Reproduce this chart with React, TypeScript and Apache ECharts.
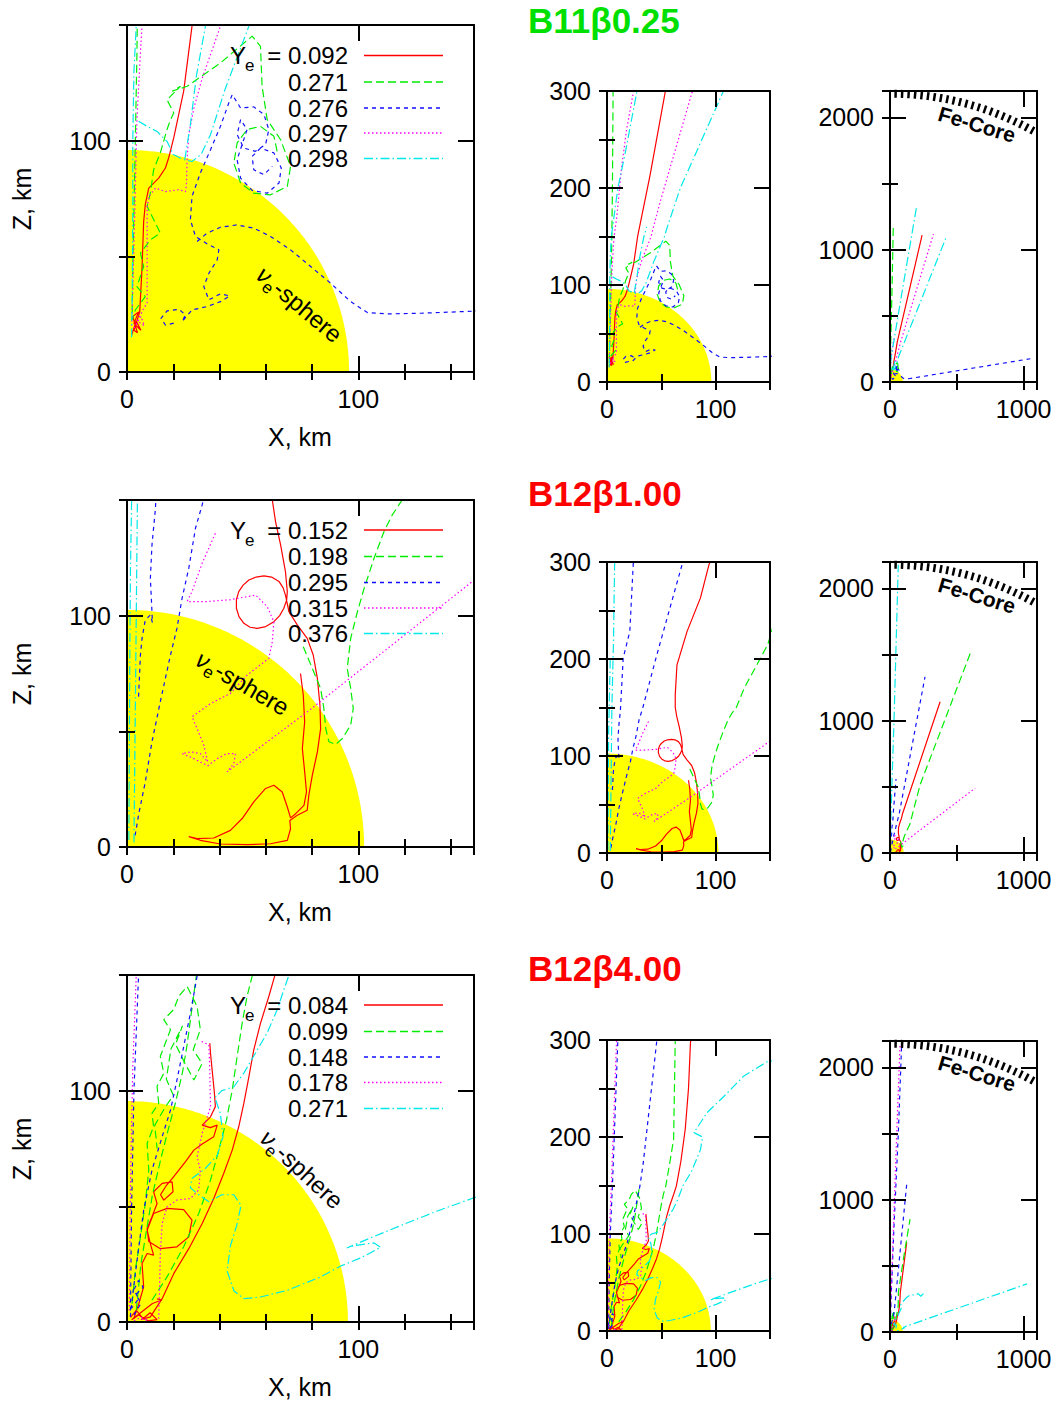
import React, { useEffect, useRef } from 'react';
import * as echarts from 'echarts';

// ---------------- data (km) ----------------
// Row 1: B11β0.25
const R1_RED = [
  [[2,16],[4,22],[6,18],[3,21],[5,26],[2.5,24],[4.5,17],[3,18],[5.5,26],[6.5,45],[7.2,65],[7.9,72.3],[9.4,79.5],[13.7,83.8],[16.6,88.2],[18,92.5],[20.2,101.2],[24.5,121.4],[28.1,149.5],[39.6,213],[53.6,299],[240,1110]],
];
const R1_GREEN = [
  [[64.9,95.4],[63.5,101.9],[57.7,106.2],[51.9,104.8],[47.6,99],[46.2,90.3],[49.1,81.7],[54.8,77.3],[62,76.6],[69.3,80.2],[70.7,88.9],[66.4,100.4],[60.6,109.1],[58.4,123.5],[57.7,140.8],[54.1,145.2],[40.4,133.6],[26,123.5],[19.5,121.4],[23.1,123.5],[17.3,117.7],[20.2,112],[18.8,109],[17.3,104.8],[14.4,94.7],[11.5,87.4],[10.1,77.3],[8.7,71.6],[13,62.9],[14.4,60],[10.1,57.1],[5.8,51.4],[7.2,45.6],[4.3,36.9],[7.9,32.6],[3.6,26.8],[2.2,22.5],[2.6,51.4],[3.5,94.7],[4.3,138],[5,200],[5.6,300],[15,700],[25,1190]],
];
const R1_BLUE = [
  [[20.2,21.1],[16.6,20.3],[14.7,23.2],[17.3,26.4],[22.4,27.1],[25.3,24.7],[23.8,21.8],[28.1,26.8],[34.6,28.3],[40.4,30.4],[44.4,32.9],[40.4,33.8],[35.4,31.2],[33.2,36.9],[35.4,42.7],[39,48.5],[39.7,52.8],[34.6,55.4],[29.6,58.6],[27.4,65.8],[28.1,75.9],[31.7,86],[36.1,96.1],[40.4,106.2],[44,116.3],[45.5,119.9],[49.1,114.1],[54.8,114.6],[59.2,111.3],[61.3,104.8],[59.9,98.3],[55.5,95.4],[50.5,96.8],[47.6,102.6],[49.1,109.1],[51.9,104.8],[47.6,91.8],[49.1,83.8],[54.1,78.5],[60.6,77.3],[65.7,81.7],[66.7,88.2],[63.5,94.7],[57.7,96.8],[54.1,93.2],[54.8,87.4],[59.2,85.3],[62.8,88.9]],
  [[30.3,56.4],[34.6,60],[40.4,62.6],[47.6,63.6],[54.8,62.2],[62,58.6],[70.7,52.8],[79.4,45.6],[88,38.4],[96.7,30.4],[103.9,25.7],[112.6,25.1],[127,25.4],[150,26.3],[1050,176]],
];
const R1_MAGENTA = [
  [[2,20],[2.5,35],[2.9,51],[3.6,80],[4.3,109],[5.8,138],[6.5,150],[9,170],[13.3,220],[18,260],[24.1,297.6],[30,330]],
  [[3,19],[6,24],[7.5,20],[4.5,22],[7,27],[8.7,30],[8.7,51],[8.7,71.6],[9.5,76],[12.3,79.5],[16.6,78],[22.4,78.8],[25.3,78],[25.7,81],[26,92.5],[26.7,102.6],[28.9,114],[32.5,127],[36.1,137.2],[40.4,149.5],[49,186],[78,297.6],[325,1118]],
];
const R1_CYAN = [
  [[2,15],[2.3,40],[2.5,70],[2.5,100],[3,130],[4,150],[10,200],[16.4,234],[27.2,297.6],[80,620],[200,1332]],
  [[5,108.4],[9,106],[13,104],[17.3,99.7],[20,94],[24,92],[28.1,91],[32,94],[36.1,102.6],[42.6,122.8],[52.7,149.5],[55,158],[67.5,200],[101.5,285.6],[425,1106]],
  [[25,92],[27.4,107],[30,128],[33.9,149.5],[36.5,160]],
];

// Row 2: B12β1.00
const R2_RED = [
  [[75,75],[76.2,65.7],[76.8,54.1],[75.8,42.6],[76.8,32.5],[77.6,23.8],[76.5,18],[72.9,14.4],[70.7,12.6],[69.3,17.3],[67.1,23.8],[63.5,26.7],[59.9,25.3],[54.8,19.5],[49.8,12.3],[44.7,7.2],[37.5,3.9],[30.3,3.6],[26.7,4.5],[31.7,2.9],[40.4,1.3],[51.9,1],[62,1.4],[69.3,2.9],[70.7,7.9],[70.4,11.5],[73.6,13.7],[77.9,15.9],[78.6,22.4],[80.1,31],[82.3,41.1],[83.7,51.2],[83.4,61.3],[82.3,72.9],[80.5,83],[77.9,90.2],[73.6,96],[70,101.7],[68.5,108.9],[67.5,112],[65.7,114.8],[62.5,116.7],[59.2,117.2],[55.8,116.7],[52.7,115.4],[50.2,113.2],[48.3,110.4],[47.3,106.9],[47.3,103.2],[48.4,99.6],[50.5,96.7],[53.2,95],[56.3,94.5],[60,95.3],[63.5,97.4],[66,100],[67.8,103.2],[69,106.7],[69.3,110.4],[68.5,119],[66.4,130.6],[64.2,140.7],[62.8,150.1],[62.8,163],[64.4,194],[73.7,228.5],[86,263],[93.8,297],[375,1143]],
];
const R2_GREEN = [
  [[76.2,86.6],[80.1,77.2],[83.7,68.5],[85.1,59.9],[85.9,51.2],[87.3,45.5],[90.2,44.3],[93.1,46.9],[96.7,52.7],[97.8,59.9],[96.7,68.5],[95.2,77.2],[96.7,90.2],[99.6,101.7],[102.5,111.8],[106.8,124.8],[111.1,136.4],[114.7,143.6],[119,150.1],[126.3,170],[148,215],[225,515],[600,1508]],
];
const R2_BLUE = [
  [[3.5,5],[5.1,14.4],[7.9,28.1],[10.8,45.5],[14.4,62.8],[18.8,83],[21.6,94.5],[23.8,107.5],[26.7,120.5],[29.6,137.8],[32.5,147.9],[45.8,204],[69,297],[262,1332]],
  [[5,65],[5.8,83],[6.5,90.2],[7.9,98.1],[10.1,100.3],[11,97],[10.5,108],[10.1,116.2],[10.8,130.6],[12.3,146.5],[14.9,201],[21,228.5],[24.1,297],[45,560]],
];
const R2_MAGENTA = [
  [[38.2,135.6],[32.5,122.7],[28.1,110.4],[26,106.1],[34.6,106.1],[44.7,106.9],[55.6,108.9],[60.6,103.9],[63.5,97.4],[62.8,88.7],[61.3,81.5],[51.9,74.3],[44.7,66.4],[36.1,62],[28.1,56.3],[30.3,51.2],[33.2,44],[34.9,36.8],[31.7,40.4],[27.4,41.1],[23.8,40.4],[28.9,38.2],[34.9,35.1],[39,38.2],[43.3,40.4],[46.9,40.4],[46.2,36.1],[43.3,32.5],[77.9,58.4],[150.1,115.4],[637,490]],
];
const R2_CYAN = [
  [[0.8,3],[1,40],[1.2,80],[1.5,120],[2,150],[3,200]],
  [[3,2],[3.5,50],[4,100],[4.5,150],[6,220],[7,297],[30,1000],[62,2180]],
];

// Row 3: B12β4.00
const R3_RED = [
  [[2.9,1.4],[5.1,7.9],[7.2,15.2],[6.5,25.3],[8.7,29.6],[11.5,28.9],[10.1,33.9],[8.7,39.7],[11.5,46.9],[17.3,49.1],[24.5,48.6],[28.1,44],[26.7,36.8],[21.6,32.5],[14.4,31.7],[9.4,34.8],[8.7,40.4],[10.8,45.5],[13,51.2],[11.5,56.3],[15.2,59.9],[19.5,60.6],[19.9,56.3],[15.9,52.7],[14.5,55],[17,59],[20.2,62.8],[25.3,69.3],[28.9,74.3],[32.5,76.9],[37.5,80.1],[39,85.1],[36,84],[32.5,85.1],[36.1,88.7],[38.2,93.1],[37.8,98.8],[36.8,109],[36.1,116.2],[35.8,120.5]],
  [[6,1],[10.1,2.2],[15.2,10.1],[20.2,20.9],[26.7,31.7],[32.5,42.6],[37.5,53.4],[41.8,64.2],[45.5,74.3],[48.3,84.4],[50.5,94.5],[52.7,106.1],[54.8,117.6],[57.7,129.1],[61.3,140.7],[63.8,149.4],[68,175],[72,208],[75,250],[76.8,297],[125,678]],
  [[1.5,2],[4,5],[7,1.5],[10,4],[13,1],[9,0.5],[5,3],[2,1],[11,8],[15,9.5],[13,10]],
];
const R3_GREEN = [
  [[10.8,9.4],[17.3,19.5],[24.5,32.5],[31,46.9],[36.1,61.3],[39.7,74.3],[43,87.3],[45.5,100.3],[47.6,114.7],[49.8,129.3],[51.9,140.8],[54.1,149.5],[58,175],[61.3,197.6],[62.8,299],[100,550],[150,854]],
  [[2.2,7.9],[3.6,22.4],[5.8,36.8],[7.9,51.2],[9.4,65.7],[8.7,77.2],[11.5,84.4],[10.8,90.2],[13.7,94.5],[13,101.9],[15.9,107.5],[14.4,114.9],[16.6,120.6],[18.8,126.4],[15.9,130.7],[20.2,135.1],[22.4,140.8],[26,145],[30.3,136.4],[31.7,126.4],[28.6,117.6],[32.5,111.8],[28.9,104.6],[25,112],[21,120],[24,128],[19,118],[17,105],[20,98],[16,92],[12,85],[13,75]],
  [[4,5],[6,25],[8.5,40],[11,55],[14.5,70],[17.5,82],[21,95],[24,108],[26,120],[28,135],[30,150]],
];
const R3_BLUE = [
  [[1.5,5],[2,50],[3,100],[5,150],[10,300],[30,800],[62,1495],[87,2173]],
  [[1.4,2.2],[2.9,15.2],[5.1,32.5],[7.2,48.3],[10.8,65.7],[15.2,80.1],[18.8,91.6],[21.6,104.6],[24.5,119],[27.4,133.5],[30.3,149.5],[33.4,173.5],[45.8,299],[125,1118]],
  [[3,3],[6,8],[4,12],[7,15],[5,18],[3,14],[5,10],[2,6]],
];
const R3_MAGENTA = [
  [[1,5],[1.5,60],[2.5,110],[4,150],[8.7,297],[50,1495],[75,2173]],
  [[13.7,1.4],[14.1,15.2],[14.4,29.6],[15.2,42.6],[17.3,49.8],[21.6,52.7],[27.4,53.4],[31,57.1],[31.7,65.7],[30.3,71.4],[32.5,81.5],[36.1,93.1],[35.8,108.2],[35.4,119.8],[32,121.4]],
  [[3,0.5],[6,2],[9,0.8],[6,1.2]],
];
const R3_CYAN = [
  [[250,290],[230,270],[210,290],[190,282],[148,278],[126,263],[107.7,242],[92,225],[80,204.5],[88,200],[86,187],[78,165],[70,150],[67.8,143.6],[64.9,135],[60.6,125],[54.8,115],[50.5,107.6],[46.2,101.7],[41,100],[38,97],[40.4,90],[41.5,80],[39,72],[33.5,66],[28,62],[27.4,58],[31,55],[35.4,52],[41,55],[46.2,55],[49.3,50.4],[47.5,42],[44.7,33],[43.3,22],[46.2,13.5],[50.5,10.1],[57.7,10.8],[69.3,13.7],[83.7,19.5],[92.4,24.2],[101,27.7],[109.7,32.3],[106.8,34.2],[98,33],[95,32],[105.4,36.4],[119.8,42.3],[134.2,48],[150,53.7],[1025,364]],
];

const ROW_TITLES = ['B11β0.25', 'B12β1.00', 'B12β4.00'];
const ROW_TITLE_COLORS = ['#00e000', '#ff0000', '#ff0000'];
const ROW1_YE = ['0.092', '0.271', '0.276', '0.297', '0.298'];
const ROW2_YE = ['0.152', '0.198', '0.295', '0.315', '0.376'];
const ROW3_YE = ['0.084', '0.099', '0.148', '0.178', '0.271'];
const NU_SPHERE_RADIUS = [96, 102.5, 95.5];
const FE_CORE_RADIUS = 2180;

const PANEL_X_MAX = [150, 150, 1100];
const PANEL_Y_MAX = [150, 300, 2200];
const PANEL_X_MAJOR = [100, 100, 1000];
const PANEL_X_MINOR = [20, 50, 500];
const PANEL_Y_MAJOR = [100, 100, 1000];
const PANEL_Y_MINOR = [50, 50, 500];

// ---------------- styles / layout ----------------
const SERIES_COLORS = ['#ff0000', '#00ee00', '#1010ff', '#ff00ff', '#00e8e8'];
const SERIES_DASH: any[] = ['solid', [8, 4], [4, 4], [1.5, 2.5], [9, 3, 1.5, 3]];
const FONT = '"Liberation Sans", Arial, Helvetica, sans-serif';

const PANEL_LEFT = [127, 607, 890];
const PANEL_WIDTH = [347, 163, 147];
const PANEL_HEIGHT = [347, 291, 291];
const PANEL_TOP = [[25, 91, 91], [500, 562, 562], [975, 1040, 1041]];
const ROW_OFFSET = [0, 475, 950];
const TITLE_Y = [20, 493, 968];
const LEGEND_Y = [[55.5, 82, 108, 133, 158.5], [530, 556.5, 582.5, 608, 633.5], [1005, 1031.5, 1057, 1082.5, 1108.5]];
const NU_POS = [[260, 271, -0.7], [198, 657, -0.53], [264, 1134, -0.75]];
const FE_POS_Y = [113, 584, 1062];

const ROWS = [
  { traj: [R1_RED, R1_GREEN, R1_BLUE, R1_MAGENTA, R1_CYAN], ye: ROW1_YE },
  { traj: [R2_RED, R2_GREEN, R2_BLUE, R2_MAGENTA, R2_CYAN], ye: ROW2_YE },
  { traj: [R3_RED, R3_GREEN, R3_BLUE, R3_MAGENTA, R3_CYAN], ye: ROW3_YE },
];

function buildOption() {
  const grid: any[] = [];
  const xAxis: any[] = [];
  const yAxis: any[] = [];
  const series: any[] = [];
  const graphic: any[] = [];
  const black = { color: '#000', width: 2 };

  ROWS.forEach((row, r) => {
    for (let p = 0; p < 3; p++) {
      const g = r * 3 + p;
      grid.push({ left: PANEL_LEFT[p], top: PANEL_TOP[r][p], width: PANEL_WIDTH[p], height: PANEL_HEIGHT[p] });
      const xb = { type: 'value', gridIndex: g, min: 0, max: PANEL_X_MAX[p], z: 10, splitLine: { show: false }, silent: true };
      const yb = { type: 'value', gridIndex: g, min: 0, max: PANEL_Y_MAX[p], z: 10, splitLine: { show: false }, silent: true };
      const xMaj = PANEL_X_MAJOR[p];
      const yMaj = PANEL_Y_MAJOR[p];
      xAxis.push(
        { ...xb, position: 'bottom', interval: xMaj, axisLine: { show: true, onZero: false, lineStyle: black },
          axisTick: { show: true, inside: true, length: 16, lineStyle: black },
          axisLabel: { show: true, margin: 14, fontSize: 25, color: '#000', fontFamily: FONT,
            formatter: (v: number) => (v % xMaj === 0 ? String(v) : '') } },
        { ...xb, position: 'bottom', interval: PANEL_X_MINOR[p], axisLine: { show: false },
          axisTick: { show: true, inside: true, length: 8, lineStyle: black }, axisLabel: { show: false } },
        { ...xb, position: 'top', interval: xMaj, axisLine: { show: true, onZero: false, lineStyle: black },
          axisTick: { show: true, inside: true, length: 16, lineStyle: black }, axisLabel: { show: false } },
        { ...xb, position: 'top', interval: PANEL_X_MINOR[p], axisLine: { show: false },
          axisTick: { show: true, inside: true, length: 8, lineStyle: black }, axisLabel: { show: false } },
      );
      yAxis.push(
        { ...yb, position: 'left', interval: yMaj, axisLine: { show: true, onZero: false, lineStyle: black },
          axisTick: { show: true, inside: true, length: 16, lineStyle: black },
          axisLabel: { show: true, margin: 16, fontSize: 25, color: '#000', fontFamily: FONT,
            formatter: (v: number) => (v % yMaj === 0 ? String(v) : '') } },
        { ...yb, position: 'left', interval: PANEL_Y_MINOR[p], axisLine: { show: false },
          axisTick: { show: true, inside: true, length: 8, lineStyle: black }, axisLabel: { show: false } },
        { ...yb, position: 'right', interval: yMaj, axisLine: { show: true, onZero: false, lineStyle: black },
          axisTick: { show: true, inside: true, length: 16, lineStyle: black }, axisLabel: { show: false } },
        { ...yb, position: 'right', interval: PANEL_Y_MINOR[p], axisLine: { show: false },
          axisTick: { show: true, inside: true, length: 8, lineStyle: black }, axisLabel: { show: false } },
      );
      const R = NU_SPHERE_RADIUS[r];
      series.push({
        type: 'custom', xAxisIndex: 4 * g, yAxisIndex: 4 * g, z: 1, silent: true,
        data: [[0, 0]],
        renderItem: (params: any, api: any) => {
          const pts: number[][] = [api.coord([0, 0])];
          for (let k = 0; k <= 90; k++) {
            const t = (k * Math.PI) / 180;
            pts.push(api.coord([R * Math.cos(t), R * Math.sin(t)]));
          }
          return { type: 'polygon', shape: { points: pts }, style: { fill: '#ffff00', stroke: null } };
        },
      });
      if (p === 2) {
        series.push({
          type: 'custom', xAxisIndex: 4 * g, yAxisIndex: 4 * g, z: 4, silent: true,
          data: [[0, FE_CORE_RADIUS]],
          renderItem: (params: any, api: any) => {
            const pts: number[][] = [];
            for (let k = 60.5; k <= 90; k += 0.5) {
              const t = (k * Math.PI) / 180;
              pts.push(api.coord([FE_CORE_RADIUS * Math.cos(t), FE_CORE_RADIUS * Math.sin(t)]));
            }
            return { type: 'polyline', shape: { points: pts }, style: { fill: null, stroke: '#000', lineWidth: 8, lineDash: [2.5, 4] } };
          },
        });
      }
      row.traj.forEach((segs, c) => {
        segs.forEach((seg) => {
          series.push({
            type: 'line', xAxisIndex: 4 * g, yAxisIndex: 4 * g, data: seg, showSymbol: false, symbol: 'none',
            clip: true, z: 3, silent: true, animation: false,
            lineStyle: { color: SERIES_COLORS[c], width: 1.2, type: SERIES_DASH[c] },
            emphasis: { disabled: true },
          });
        });
      });
    }

    const off = ROW_OFFSET[r];
    // title
    graphic.push({ type: 'text', x: 528, y: TITLE_Y[r], z: 20,
      style: { text: ROW_TITLES[r], fill: ROW_TITLE_COLORS[r], fontSize: 35, fontWeight: 'bold', fontFamily: FONT, align: 'left', verticalAlign: 'middle' } });
    // axis names
    graphic.push({ type: 'text', x: 300, y: 437 + off, z: 20,
      style: { text: 'X, km', fill: '#000', fontSize: 25, fontFamily: FONT, align: 'center', verticalAlign: 'middle' } });
    graphic.push({ type: 'text', x: 22, y: 199 + off, rotation: Math.PI / 2, z: 20,
      style: { text: 'Z, km', fill: '#000', fontSize: 25, fontFamily: FONT, align: 'center', verticalAlign: 'middle' } });
    // legend
    row.ye.forEach((ye, i) => {
      const y = LEGEND_Y[r][i];
      graphic.push({ type: 'text', x: 348, y, z: 20,
        style: { text: i === 0 ? '= ' + ye : ye, fill: '#000', fontSize: 24, fontFamily: FONT, align: 'right', verticalAlign: 'middle' } });
      graphic.push({ type: 'line', z: 20, shape: { x1: 364, y1: y, x2: 443, y2: y },
        style: { stroke: SERIES_COLORS[i], lineWidth: 1.3, lineDash: Array.isArray(SERIES_DASH[i]) ? SERIES_DASH[i] : null } });
    });
    graphic.push({ type: 'text', x: 230, y: LEGEND_Y[r][0], z: 20,
      style: { text: 'Y', fill: '#000', fontSize: 24, fontFamily: FONT, align: 'left', verticalAlign: 'middle' } });
    graphic.push({ type: 'text', x: 245, y: LEGEND_Y[r][0] + 10, z: 20,
      style: { text: 'e', fill: '#000', fontSize: 17, fontFamily: FONT, align: 'left', verticalAlign: 'middle' } });
    // nu_e-sphere label
    const np = NU_POS[r];
    graphic.push({ type: 'group', x: np[0], y: np[1], rotation: np[2], z: 20, children: [
      { type: 'text', x: 0, y: 0, z: 20, style: { text: 'ν', fill: '#000', fontSize: 24, fontStyle: 'italic', fontFamily: FONT, align: 'left', verticalAlign: 'middle' } },
      { type: 'text', x: 12, y: 8, z: 20, style: { text: 'e', fill: '#000', fontSize: 17, fontFamily: FONT, align: 'left', verticalAlign: 'middle' } },
      { type: 'text', x: 22, y: 0, z: 20, style: { text: '-sphere', fill: '#000', fontSize: 24, fontFamily: FONT, align: 'left', verticalAlign: 'middle' } },
    ] });
    // Fe-Core label
    graphic.push({ type: 'text', x: 939, y: FE_POS_Y[r], rotation: -0.29, z: 20,
      style: { text: 'Fe-Core', fill: '#000', fontSize: 21, fontWeight: 'bold', fontFamily: FONT, align: 'left', verticalAlign: 'middle' } });
  });

  return { animation: false, backgroundColor: '#fff', grid, xAxis, yAxis, series, graphic };
}

export default function App() {
  const ref = useRef<HTMLDivElement>(null);
  useEffect(() => {
    if (!ref.current) return;
    const chart = echarts.init(ref.current, null, { renderer: 'svg' });
    chart.setOption(buildOption() as any);
    return () => chart.dispose();
  }, []);
  return <div ref={ref} style={{ position: 'absolute', left: 0, top: 0, width: 1062, height: 1403 }} />;
}
